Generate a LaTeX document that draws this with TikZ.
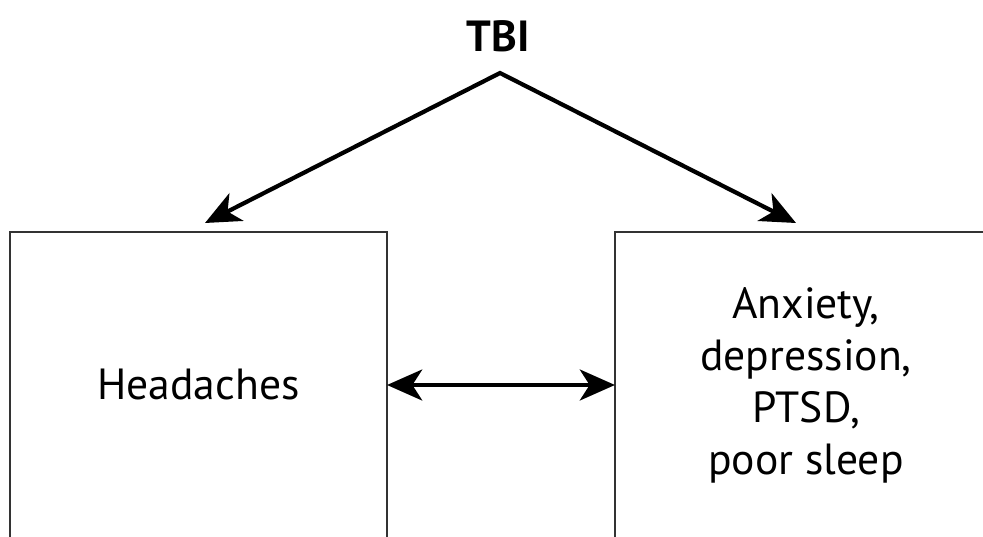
\documentclass[tikz,border=0pt]{standalone}
\usepackage{fontspec}
\setmainfont{PT Sans}
\usetikzlibrary{arrows.meta,positioning}
\tikzset{box/.style={draw=black!80, line width=2pt, outer sep=0pt, inner sep=0pt,
        align=center, font=\fontsize{31}{37}\selectfont},
    bigtip/.tip={Stealth[length=25pt, width=22pt, inset=7pt]},
    arr/.style={line width=3pt, bigtip-bigtip}}

\begin{document}
\begin{tikzpicture}[x=0.025cm, y=-0.025cm]

        \path[use as bounding box, clip] (0,0) rectangle (983,537);

        \node[font=\bfseries\fontsize{31}{36}\selectfont] (tbi) at (498,36) {TBI};
        \coordinate (apex) at (500,73);
        \coordinate (tipl) at (205,223);
        \coordinate (tipr) at (796,223);

        \node[box, minimum width=9.425cm, minimum height=7.65cm] (hd) at (198.5,385)
            {Headaches};
        \node[box, minimum width=9.55cm, minimum height=7.65cm] (anx) at (806,385)
            {Anxiety,\\depression,\\PTSD,\\poor sleep};

        \draw[arr, line join=miter] (tipl) -- (apex) -- (tipr);
        \draw[arr] (hd) -- (anx);

    \end{tikzpicture}
\end{document}
